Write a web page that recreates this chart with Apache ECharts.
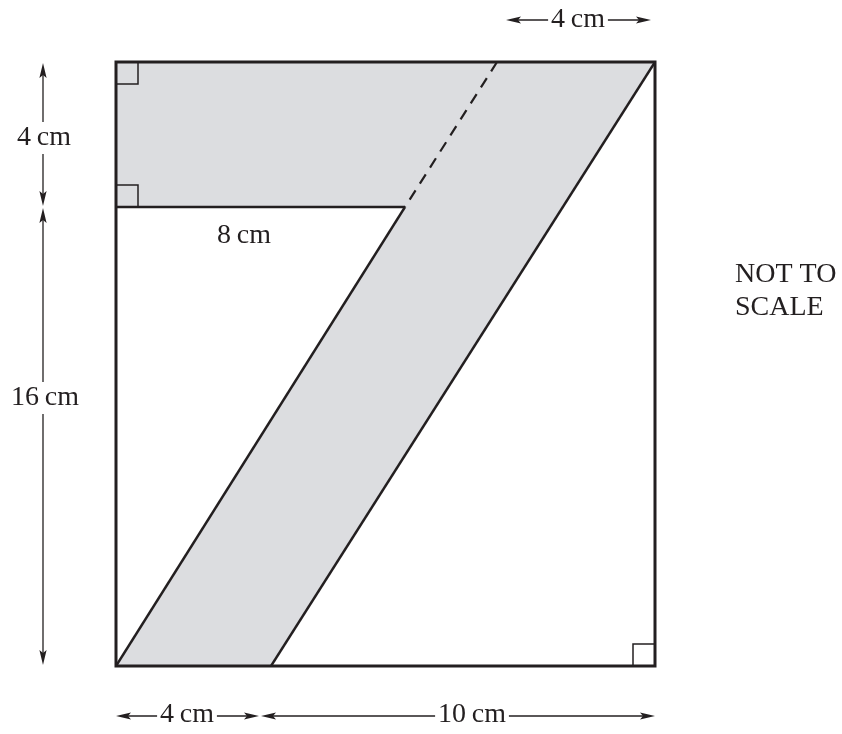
<!DOCTYPE html>
<html><head><meta charset="utf-8">
<script src="https://cdn.jsdelivr.net/npm/echarts@6/dist/echarts.min.js"></script>
<style>html,body{margin:0;padding:0;background:#fff}#chart{width:842px;height:734px}</style>
</head><body><div id="chart"></div>
<script>
// Diagram geometry (drawing units, y grows downward)
const rectangleCorners = [[116,62],[655,62],[655,666],[116,666]];
const shadedOutline = [[116,62],[655,62],[271,666],[116,666],[405,207],[116,207]];
const solidEdges = [[116,207,405,207],[116,666,405,207],[271,666,655,62]];
const dashedEdges = [[497,62,405,207]];
const rightAngleCorners = [[116,62,1,1],[116,207,1,-1],[655,666,-1,-1]];
const dimensionArrows = [[506,20,651,20],[43,63,43,206],[43,208,43,665],[116,716,259,716],[261,716,655,716]];
const dimensionLabels = ['4\u2009cm','4\u2009cm','16\u2009cm','8\u2009cm','4\u2009cm','10\u2009cm'];
const dimensionLabelAt = [[578,20],[44,138],[45,398],[244,236],[187,715],[472,715]];
const noteLines = ['NOT TO','SCALE'];
const noteAt = [[735,275],[735,308]];

const INK = '#231f20';
const FONT = '28px "Liberation Serif", "Times New Roman", serif';

const chart = echarts.init(document.getElementById('chart'), null, {renderer:'canvas'});

function polyItem(params, api){
  const pts = [];
  for (let i = 0; i < shadedOutline.length; i++) pts.push(api.coord([api.value(2*i), api.value(2*i+1)]));
  return {type:'polygon', shape:{points:pts}, style:{fill:'#dcdde0', stroke:null}};
}
function edgeItem(width, dash){
  return function(params, api){
    const a = api.coord([api.value(0), api.value(1)]);
    const b = api.coord([api.value(2), api.value(3)]);
    return {type:'line', shape:{x1:a[0],y1:a[1],x2:b[0],y2:b[1]},
      style:{stroke:INK, lineWidth:width, lineDash:dash||null, lineCap:'butt'}};
  };
}
function rightAngleItem(params, api){
  const c = api.coord([api.value(0), api.value(1)]);
  const dx = api.value(2), dy = api.value(3), s = 22;
  return {type:'polyline', shape:{points:[[c[0]+dx*s, c[1]],[c[0]+dx*s, c[1]+dy*s],[c[0], c[1]+dy*s]]},
    style:{stroke:INK, lineWidth:1.5, fill:null}};
}
function arrowItem(params, api){
  const a = api.coord([api.value(0), api.value(1)]);
  const b = api.coord([api.value(2), api.value(3)]);
  const L = Math.hypot(b[0]-a[0], b[1]-a[1]);
  const ux = (b[0]-a[0])/L, uy = (b[1]-a[1])/L;
  const px = -uy, py = ux, len = 15, hw = 3.6;
  const head = (t, dir) => [[t[0], t[1]],
    [t[0]-dir*ux*len + px*hw, t[1]-dir*uy*len + py*hw],
    [t[0]-dir*ux*len*0.8, t[1]-dir*uy*len*0.8],
    [t[0]-dir*ux*len - px*hw, t[1]-dir*uy*len - py*hw]];
  return {type:'group', children:[
    {type:'line', shape:{x1:a[0]+ux*8,y1:a[1]+uy*8,x2:b[0]-ux*8,y2:b[1]-uy*8}, style:{stroke:INK, lineWidth:1.3}},
    {type:'polygon', shape:{points:head(a,-1)}, style:{fill:INK}},
    {type:'polygon', shape:{points:head(b,1)}, style:{fill:INK}}
  ]};
}
function labelItem(texts, align, bg){
  return function(params, api){
    const p = api.coord([api.value(0), api.value(1)]);
    return {type:'text', x:p[0], y:p[1], z2:10,
      style:{text:texts[params.dataIndex], font:FONT, fill:INK, align:align, verticalAlign:'middle',
        backgroundColor: bg ? '#ffffff' : null, padding: bg ? [2,3,2,3] : 0}};
  };
}

chart.setOption({
  animation:false,
  backgroundColor:'#ffffff',
  grid:{left:0,right:0,top:0,bottom:0},
  xAxis:{type:'value', min:0, max:842, show:false},
  yAxis:{type:'value', min:0, max:734, inverse:true, show:false},
  series:[
    {type:'custom', renderItem:polyItem, data:[shadedOutline.flat()], silent:true, z:1},
    {type:'custom', renderItem:edgeItem(2.4), data:solidEdges, silent:true, z:3},
    {type:'custom', renderItem:edgeItem(2.2,[11,8]), data:dashedEdges, silent:true, z:3},
    {type:'custom', renderItem:rightAngleItem, data:rightAngleCorners, silent:true, z:3},
    {type:'custom', silent:true, z:4, data:[rectangleCorners.flat()],
      renderItem:function(params, api){
        const pts = [];
        for (let i = 0; i < rectangleCorners.length; i++) pts.push(api.coord([api.value(2*i), api.value(2*i+1)]));
        return {type:'polygon', shape:{points:pts}, style:{stroke:INK, lineWidth:3, fill:null, lineJoin:'miter'}};
      }},
    {type:'custom', renderItem:arrowItem, data:dimensionArrows, silent:true, z:3},
    {type:'custom', renderItem:labelItem(dimensionLabels,'center',true), data:dimensionLabelAt, silent:true, z:5},
    {type:'custom', renderItem:labelItem(noteLines,'left',false), data:noteAt, silent:true, z:5}
  ]
});
</script></body></html>
